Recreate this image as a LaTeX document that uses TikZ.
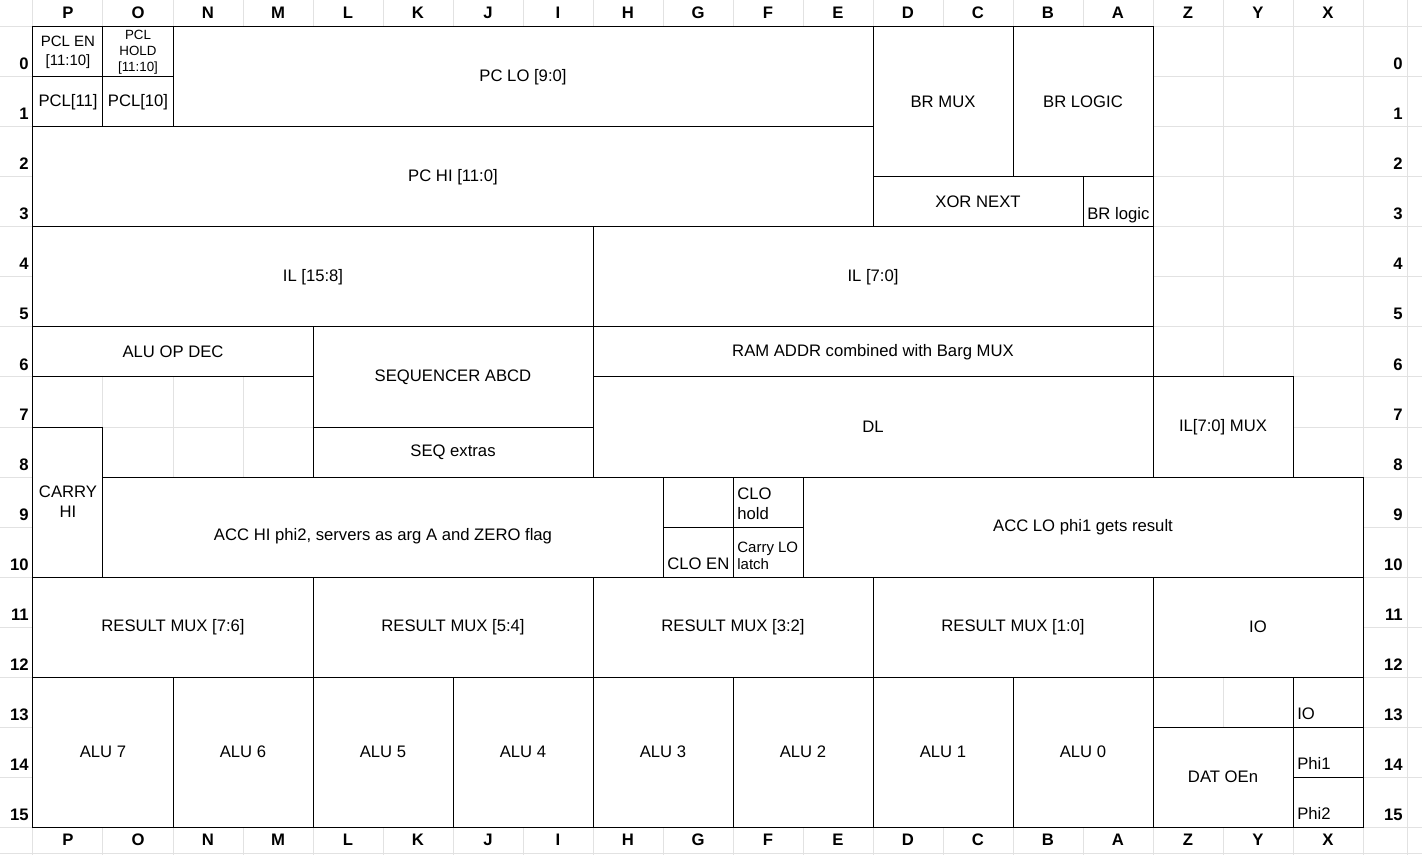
\documentclass[tikz,border=0pt]{standalone}
\usepackage{fontspec}
\setmainfont{Liberation Sans}
\definecolor{gridgray}{HTML}{E2E2E2}
\tikzset{
  cellblock/.style 2 args={draw=black, line width=0.6pt, fill=white, anchor=north west, inner sep=0pt, outer sep=0pt, minimum width=#1*42pt, minimum height=#2*30pt, align=center, font=\fontsize{10}{12}\selectfont},
  cornertext/.style={anchor=south west, inner sep=0pt, align=left, text depth=0pt, font=\fontsize{10}{12}\selectfont},
  celltext/.style={inner sep=0pt, align=center, font=\fontsize{10}{12}\selectfont},
  gridline/.style={gridgray, line width=0.6pt},
  headstyle/.style={inner sep=0pt, font=\fontsize{10}{12}\selectfont\bfseries}
}
\begin{document}
\begin{tikzpicture}[x=42pt, y=-30pt]
  \useasboundingbox (-0.4714,-0.54) rectangle (19.8429,16.56);
  \fill[white] (-0.4714,-0.54) rectangle (19.8429,16.56);

  % sheet grid
  \foreach \c in {0,...,19}
    \draw[gridline] (\c,-0.54) -- (\c,16.56);
  \draw[gridline] (19.629,-0.54) -- (19.629,16.56);
  \foreach \r in {0,...,16}
    \draw[gridline] (-0.4714,\r) -- (19.8429,\r);
  \draw[gridline] (-0.4714,16.52) -- (19.8429,16.52);

  % column and row headers
  \foreach \l [count=\i from 0] in {P,O,N,M,L,K,J,I,H,G,F,E,D,C,B,A,Z,Y,X} {
    \node[headstyle] (top\l) at (\i+0.5,-0.28) {\l};
    \node[headstyle] (bot\l) at (\i+0.5,16.26) {\l};
  }
  \foreach \r in {0,...,15} {
    \node[headstyle, anchor=base east] (left\r) at (-0.057,\r+0.86) {\r};
    \node[headstyle, anchor=base east] (right\r) at (19.571,\r+0.86) {\r};
  }

  % outline
  \draw[line width=0.6pt] (0,0) -| (16,7) -| (18,9) -| (19,16) -| (0,0);

  % PC
  \node[cellblock={1}{1}, font=\fontsize{9}{11.4}\selectfont] (pclen) at (0,0) {PCL EN\\{[11:10]}};
  \node[cellblock={1}{1}, font=\fontsize{8}{9.6}\selectfont] (pclhold) at (1,0) {PCL\\HOLD\\{[11:10]}};
  \node[cellblock={1}{1}] (pcl11) at (0,1) {PCL[11]};
  \node[cellblock={1}{1}] (pcl10) at (1,1) {PCL[10]};
  \node[cellblock={10}{2}] (pclo) at (2,0) {PC LO [9:0]};
  \node[cellblock={12}{2}] (pchi) at (0,2) {PC HI [11:0]};

  % branch
  \node[cellblock={2}{3}] (brmux) at (12,0) {BR MUX};
  \node[cellblock={2}{3}] (brlogic) at (14,0) {BR LOGIC};
  \node[cellblock={3}{1}] (xornext) at (12,3) {XOR NEXT};
  \node[cellblock={1}{1}] (brsmall) at (15,3) {};
  \node[cornertext] (brsmalltxt) at ([xshift=2.4pt,yshift=4.2pt]brsmall.south west) {BR logic};

  % instruction latch, sequencer
  \node[cellblock={8}{2}] (ilhi) at (0,4) {IL [15:8]};
  \node[cellblock={8}{2}] (illo) at (8,4) {IL [7:0]};
  \node[cellblock={4}{1}] (aluopdec) at (0,6) {ALU OP DEC};
  \node[cellblock={4}{2}] (seqabcd) at (4,6) {SEQUENCER ABCD};
  \node[cellblock={8}{1}] (ramaddr) at (8,6) {RAM ADDR combined with Barg MUX};
  \node[cellblock={4}{1}] (seqextras) at (4,8) {SEQ extras};
  \node[cellblock={8}{2}] (dl) at (8,7) {DL};
  \node[cellblock={2}{2}] (ilmux) at (16,7) {IL[7:0] MUX};

  % accumulator
  \node[cellblock={1}{3}] (carryhi) at (0,8) {CARRY\\HI};
  \node[cellblock={8}{2}] (acchi) at (1,9) {};
  \node[celltext] (acchitxt) at ([yshift=-5.4pt]acchi.center) {ACC HI phi2, servers as arg A and ZERO flag};
  \node[cellblock={1}{1}] (gnine) at (9,9) {};
  \node[cellblock={1}{1}] (cloen) at (9,10) {};
  \node[cornertext] (cloentxt) at ([xshift=2.4pt,yshift=4.2pt]cloen.south west) {CLO EN};
  \node[cellblock={1}{1}] (clohold) at (10,9) {};
  \node[cornertext] (cloholdtxt) at ([xshift=2.4pt,yshift=4.2pt]clohold.south west) {CLO\\hold};
  \node[cellblock={1}{1}] (carrylo) at (10,10) {};
  \node[cornertext, font=\fontsize{9}{10.2}\selectfont] (carrylotxt) at ([xshift=2.4pt,yshift=4.2pt]carrylo.south west) {Carry LO\\latch};
  \node[cellblock={8}{2}] (acclo) at (11,9) {ACC LO phi1 gets result};

  % result mux
  \node[cellblock={4}{2}] (resmuxa) at (0,11) {RESULT MUX [7:6]};
  \node[cellblock={4}{2}] (resmuxb) at (4,11) {RESULT MUX [5:4]};
  \node[cellblock={4}{2}] (resmuxc) at (8,11) {RESULT MUX [3:2]};
  \node[cellblock={4}{2}] (resmuxd) at (12,11) {RESULT MUX [1:0]};
  \node[cellblock={3}{2}] (io) at (16,11) {IO};

  % ALU slices
  \node[cellblock={2}{3}] (alu7) at (0,13) {ALU 7};
  \node[cellblock={2}{3}] (alu6) at (2,13) {ALU 6};
  \node[cellblock={2}{3}] (alu5) at (4,13) {ALU 5};
  \node[cellblock={2}{3}] (alu4) at (6,13) {ALU 4};
  \node[cellblock={2}{3}] (alu3) at (8,13) {ALU 3};
  \node[cellblock={2}{3}] (alu2) at (10,13) {ALU 2};
  \node[cellblock={2}{3}] (alu1) at (12,13) {ALU 1};
  \node[cellblock={2}{3}] (alu0) at (14,13) {ALU 0};

  % pads
  \node[cellblock={2}{2}] (datoen) at (16,14) {DAT OEn};
  \node[cellblock={1}{1}] (iopad) at (18,13) {};
  \node[cornertext] (iopadtxt) at ([xshift=2.4pt,yshift=4.2pt]iopad.south west) {IO};
  \node[cellblock={1}{1}] (phione) at (18,14) {};
  \node[cornertext] (phionetxt) at ([xshift=2.4pt,yshift=4.2pt]phione.south west) {Phi1};
  \node[cellblock={1}{1}] (phitwo) at (18,15) {};
  \node[cornertext] (phitwotxt) at ([xshift=2.4pt,yshift=4.2pt]phitwo.south west) {Phi2};
\end{tikzpicture}
\end{document}
